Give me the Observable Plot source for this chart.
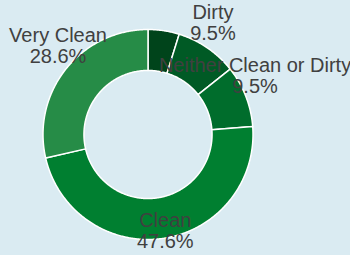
<!DOCTYPE html>
<html><head><meta charset="utf-8">
<script src="https://cdn.jsdelivr.net/npm/d3@7"></script>
<script src="https://cdn.jsdelivr.net/npm/@observablehq/plot@0.6"></script>
<style>
html,body{margin:0;padding:0;background:#daebf2;}
#chart svg{display:block;background:#daebf2;}
</style>
</head><body><div id="chart"></div>
<script>
// Data
const categories = ["Very Dirty", "Dirty", "Neither Clean or Dirty", "Clean", "Very Clean"];
const percents = [4.8, 9.5, 9.5, 47.6, 28.6];
const colors = ["#00441b", "#005a25", "#006d2c", "#007f30", "#268c47"];

// Layout
const W = 350, H = 255;
const cx = 147.5, cy = 134, R = 105; // pixels
const innerRatio = 0.61;
const labelRadius = 1.095;

const rows = categories.map((c, i) => ({name: c, value: percents[i]}));
const arcs = d3.pie().sort(null).value(d => d.value)(rows);

// polygon points for each slice (data units: outer radius = 1)
const pts = [];
for (const a of arcs) {
  const n = Math.max(4, Math.ceil((a.endAngle - a.startAngle) / (Math.PI / 360)));
  for (let k = 0; k <= n; k++) {
    const t = a.startAngle + (a.endAngle - a.startAngle) * k / n;
    pts.push({name: a.data.name, x: Math.sin(t), y: Math.cos(t)});
  }
  for (let k = n; k >= 0; k--) {
    const t = a.startAngle + (a.endAngle - a.startAngle) * k / n;
    pts.push({name: a.data.name, x: innerRatio * Math.sin(t), y: innerRatio * Math.cos(t)});
  }
}

const labels = arcs.filter(a => a.data.value >= 5).map(a => {
  const m = (a.startAngle + a.endAngle) / 2;
  return {
    x: labelRadius * Math.sin(m),
    y: labelRadius * Math.cos(m),
    text: a.data.name + "\n" + a.data.value.toFixed(1) + "%"
  };
});

const chart = Plot.plot({
  width: W,
  height: H,
  margin: 0,
  style: {background: "#daebf2", fontFamily: "'Liberation Sans', Arial, sans-serif"},
  x: {domain: [-cx / R, (W - cx) / R], axis: null},
  y: {domain: [-(H - cy) / R, cy / R], axis: null},
  color: {domain: categories, range: colors},
  marks: [
    Plot.line(pts, {x: "x", y: "y", z: "name", fill: "name", stroke: "white", strokeWidth: 1.5, curve: "linear-closed"}),
    Plot.text(labels, {x: "x", y: "y", text: "text", fontSize: 20, lineHeight: 1.05, lineAnchor: "bottom", fill: "#404040"})
  ]
});
document.getElementById("chart").appendChild(chart);
</script>
</body></html>
